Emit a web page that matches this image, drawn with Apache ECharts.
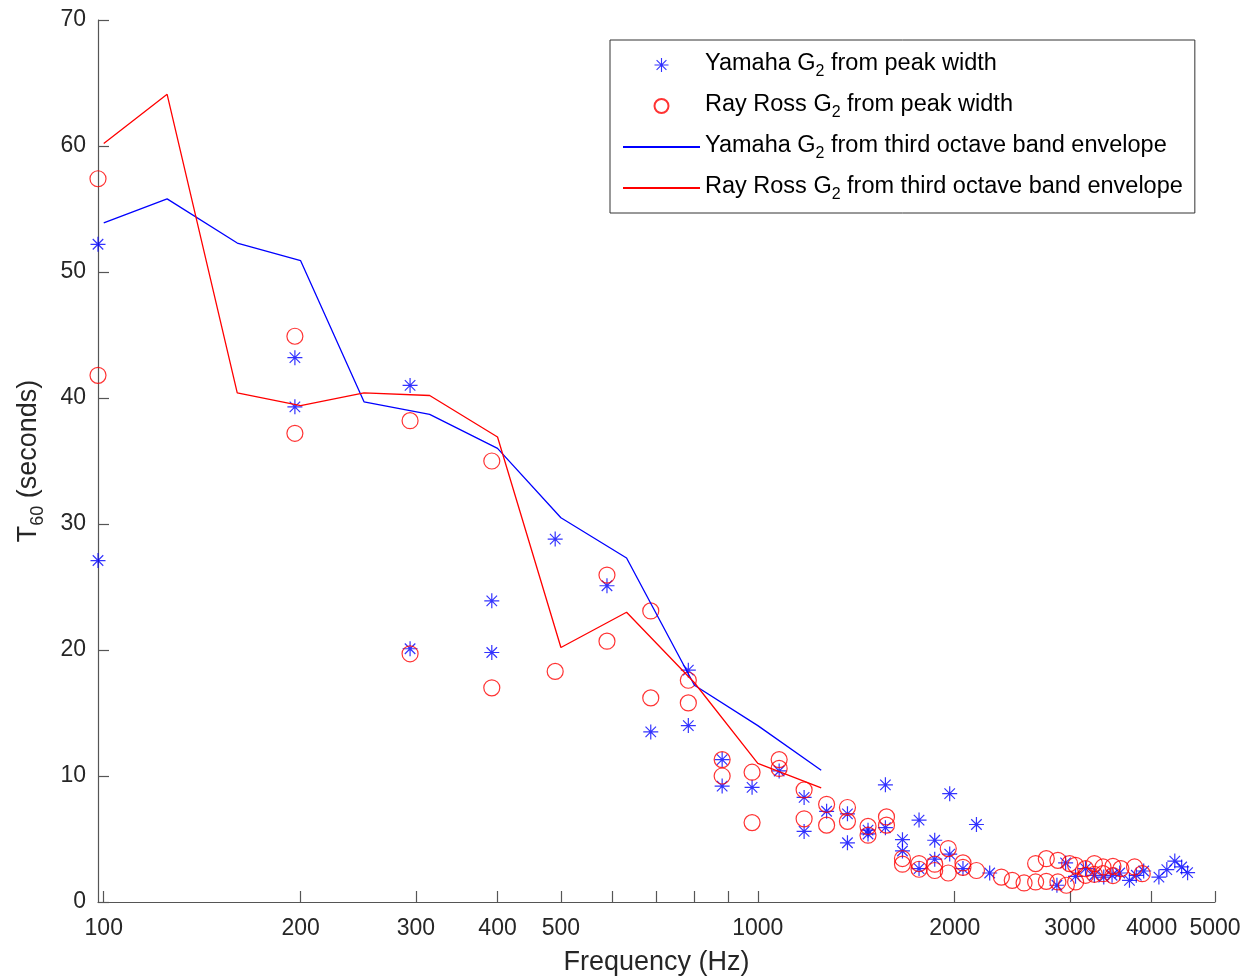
<!DOCTYPE html>
<html>
<head>
<meta charset="utf-8">
<script src="https://cdn.jsdelivr.net/npm/echarts@6/dist/echarts.min.js"></script>
<style>
html,body{margin:0;padding:0;background:#fff;}
#chart{width:1259px;height:980px;}
</style>
</head>
<body>
<div id="chart"></div>
<script>
// ---- data ----
const yamahaPeakFreq = [98, 98, 196, 196, 294, 294, 392, 392, 490, 588, 686, 783, 783, 882, 882, 980, 1078, 1177, 1177, 1274, 1371, 1371, 1474, 1474, 1567, 1567, 1664, 1664, 1764, 1764, 1864, 1864, 1965, 1965, 2059, 2159, 2262, 2866, 2955, 3060, 3170, 3270, 3380, 3480, 3575, 3700, 3790, 3890, 4104, 4220, 4340, 4446, 4540];
const yamahaPeakT60 = [52.2, 27.1, 43.2, 39.3, 41.0, 20.1, 23.9, 19.8, 28.8, 25.1, 13.5, 18.4, 14.0, 11.3, 9.2, 9.1, 10.4, 8.3, 5.6, 7.2, 7.0, 4.7, 5.7, 5.4, 9.3, 5.9, 4.95, 4.05, 6.5, 2.65, 4.9, 3.4, 8.6, 3.8, 2.65, 6.15, 2.3, 1.33, 3.1, 2.04, 2.65, 2.12, 1.98, 2.12, 2.3, 1.72, 2.12, 2.46, 1.98, 2.57, 3.25, 2.78, 2.33];

const rossPeakFreq = [98, 98, 196, 196, 294, 294, 392, 392, 490, 588, 588, 686, 686, 783, 783, 882, 882, 980, 980, 1078, 1078, 1177, 1177, 1274, 1274, 1371, 1371, 1474, 1474, 1573, 1573, 1664, 1664, 1764, 1764, 1864, 1864, 1955, 1955, 2059, 2059, 2159, 2357, 2449, 2553, 2659, 2659, 2761, 2761, 2876, 2876, 2963, 2997, 3061, 3061, 3170, 3170, 3270, 3270, 3371, 3371, 3491, 3491, 3590, 3767, 3870];
const rossPeakT60 = [57.4, 41.8, 44.9, 37.2, 38.2, 19.7, 35.0, 17.0, 18.3, 25.95, 20.7, 23.1, 16.2, 17.6, 15.8, 11.3, 10.0, 10.3, 6.3, 11.3, 10.6, 8.9, 6.6, 7.75, 6.1, 7.5, 6.4, 6.0, 5.3, 6.75, 6.1, 3.45, 3.0, 3.05, 2.6, 3.0, 2.5, 4.24, 2.3, 3.1, 2.75, 2.5, 1.98, 1.72, 1.51, 1.59, 3.05, 1.64, 3.44, 1.59, 3.31, 1.33, 3.05, 1.59, 2.91, 2.12, 2.65, 3.05, 2.2, 2.78, 2.25, 2.83, 2.1, 2.65, 2.78, 2.25];

const bandFreq = [100, 125, 160, 200, 250, 315, 400, 500, 630, 800, 1000, 1250];
const yamahaBandT60 = [53.9, 55.8, 52.3, 50.9, 39.7, 38.7, 36.0, 30.5, 27.3, 17.2, 14.0, 10.45];
const rossBandT60 = [60.2, 64.1, 40.4, 39.4, 40.4, 40.2, 36.9, 20.2, 23.0, 17.4, 11.0, 9.05];

const xTickValues = [100, 200, 300, 400, 500, 600, 700, 800, 900, 1000, 2000, 3000, 4000, 5000];
const xLabelValues = [100, 200, 300, 400, 500, 1000, 2000, 3000, 4000, 5000];

const seriesNames = [
  'Yamaha G_2 from peak width',
  'Ray Ross G_2 from peak width',
  'Yamaha G_2 from third octave band envelope',
  'Ray Ross G_2 from third octave band envelope'
];

// ---- chart ----
const zip = (xs, ys) => xs.map((x, i) => [x, ys[i]]);

const starPath = 'path://M0 46 L100 46 L100 54 L0 54 Z M46 0 L54 0 L54 100 L46 100 Z ' +
  'M17.8 12.2 L87.8 82.2 L82.2 87.8 L12.2 17.8 Z M87.8 17.8 L17.8 87.8 L12.2 82.2 L82.2 12.2 Z';

const FONT = 'Liberation Sans, Arial, Helvetica, sans-serif';
const subRich = {
  n: { fontSize: 23.5, fontFamily: FONT, color: '#000', verticalAlign: 'top', lineHeight: 26 },
  s: { fontSize: 16, fontFamily: FONT, color: '#000', verticalAlign: 'top', lineHeight: 16, padding: [12, 0, 0, 0] }
};
function withSub(name) {
  const parts = name.split('_');
  return '{n|' + parts[0] + '}{s|' + parts[1].charAt(0) + '}{n|' + parts[1].slice(1) + '}';
}

const chart = echarts.init(document.getElementById('chart'), null, { renderer: 'canvas' });
chart.setOption({
  animation: false,
  backgroundColor: '#ffffff',
  textStyle: { fontFamily: FONT },
  grid: { left: 98, right: 44, top: 20, bottom: 78, containLabel: false, outerBoundsMode: 'none' },
  legend: {
    orient: 'vertical',
    left: 610,
    top: 40,
    padding: [12, 12, 10, 12],
    itemGap: 13,
    itemWidth: 77,
    itemHeight: 14,
    borderColor: '#333',
    borderWidth: 1,
    backgroundColor: '#fff',
    data: [
      { name: seriesNames[0] },
      { name: seriesNames[1] },
      { name: seriesNames[2], itemStyle: { opacity: 0 } },
      { name: seriesNames[3], itemStyle: { opacity: 0 } }
    ],
    formatter: withSub,
    textStyle: { fontSize: 23.5, color: '#000', fontFamily: FONT, rich: subRich }
  },
  xAxis: {
    type: 'log',
    logBase: 10,
    min: 98,
    max: 5000,
    name: 'Frequency (Hz)',
    nameLocation: 'middle',
    nameGap: 47,
    nameTextStyle: { fontSize: 27, color: '#262626', fontFamily: FONT },
    axisLine: { show: true, onZero: false, lineStyle: { color: '#555', width: 1.2 } },
    axisTick: { show: true, inside: true, length: 11, customValues: xTickValues, lineStyle: { color: '#555', width: 1.2 } },
    axisLabel: {
      customValues: xLabelValues,
      formatter: v => String(Math.round(v)),
      fontSize: 23, color: '#262626', margin: 15, fontFamily: FONT,
      showMinLabel: true, showMaxLabel: true
    },
    splitLine: { show: false },
    minorTick: { show: false }
  },
  yAxis: {
    type: 'value',
    min: 0,
    max: 70,
    interval: 10,
    name: '{n|T}{s|60}{n| (seconds)}',
    nameLocation: 'middle',
    nameGap: 53,
    nameRotate: 90,
    nameTextStyle: {
      color: '#262626',
      rich: {
        n: { fontSize: 27, fontFamily: FONT, color: '#262626', verticalAlign: 'top', lineHeight: 30 },
        s: { fontSize: 18, fontFamily: FONT, color: '#262626', verticalAlign: 'top', lineHeight: 18, padding: [14, 0, 0, 0] }
      }
    },
    axisLine: { show: true, lineStyle: { color: '#555', width: 1.2 } },
    axisTick: { show: true, inside: true, length: 11, lineStyle: { color: '#555', width: 1.2 } },
    axisLabel: { fontSize: 23, color: '#262626', margin: 12, fontFamily: FONT },
    splitLine: { show: false }
  },
  series: [
    {
      name: seriesNames[0],
      type: 'scatter',
      symbol: starPath,
      symbolSize: 15,
      itemStyle: { color: '#0000ff' },
      data: zip(yamahaPeakFreq, yamahaPeakT60),
      z: 2
    },
    {
      name: seriesNames[1],
      type: 'scatter',
      symbol: 'circle',
      symbolSize: 16,
      itemStyle: { color: 'rgba(255,255,255,0)', borderColor: '#ff0000', borderWidth: 1.2 },
      data: zip(rossPeakFreq, rossPeakT60),
      z: 3
    },
    {
      name: seriesNames[2],
      type: 'line',
      symbol: 'none',
      showSymbol: false,
      lineStyle: { color: '#0000ff', width: 1.3 },
      itemStyle: { color: '#0000ff' },
      data: zip(bandFreq, yamahaBandT60),
      z: 4
    },
    {
      name: seriesNames[3],
      type: 'line',
      symbol: 'none',
      showSymbol: false,
      lineStyle: { color: '#ff0000', width: 1.3 },
      itemStyle: { color: '#ff0000' },
      data: zip(bandFreq, rossBandT60),
      z: 4
    }
  ]
});
</script>
</body>
</html>
